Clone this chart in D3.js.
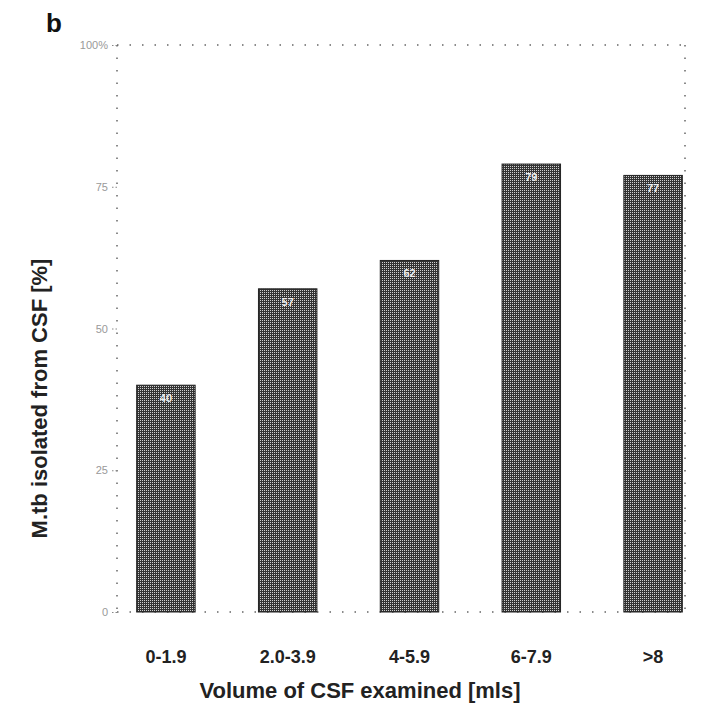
<!DOCTYPE html>
<html>
<head>
<meta charset="utf-8">
<script src="https://cdn.jsdelivr.net/npm/d3@7"></script>
<style>
  body { margin: 0; background: #fff; }
  svg { font-family: "Liberation Sans", Arial, sans-serif; }
</style>
</head>
<body>
<div id="chart"></div>
<script>
var categories = ["0-1.9", "2.0-3.9", "4-5.9", "6-7.9", ">8"];
var values = [40, 57, 62, 79, 77];
var yTicks = [0, 25, 50, 75, 100];
var yTickLabels = ["0", "25", "50", "75", "100%"];

var margin = {top: 45, right: 20, bottom: 93, left: 117},
    width = 706 - margin.left - margin.right,
    height = 705 - margin.top - margin.bottom;

var svg = d3.select("#chart").append("svg")
    .attr("width", 706)
    .attr("height", 705);

// checker pattern, a bit like the halftone of the scan
var defs = svg.append("defs");
var pat = defs.append("pattern")
    .attr("id", "dots")
    .attr("width", 4).attr("height", 4)
    .attr("patternUnits", "userSpaceOnUse");
pat.append("rect").attr("width", 4).attr("height", 4).attr("fill", "#333");
pat.append("rect").attr("x", 1).attr("y", 1).attr("width", 1).attr("height", 1).attr("fill", "#d0d0d0");
pat.append("rect").attr("x", 3).attr("y", 3).attr("width", 1).attr("height", 1).attr("fill", "#d0d0d0");
pat.append("rect").attr("x", 1).attr("y", 3).attr("width", 1).attr("height", 1).attr("fill", "#d0d0d0");
pat.append("rect").attr("x", 3).attr("y", 1).attr("width", 1).attr("height", 1).attr("fill", "#d0d0d0");

var g = svg.append("g")
    .attr("transform", "translate(" + margin.left + "," + margin.top + ")");

var xScale = d3.scaleBand()
    .domain(categories)
    .range([-12, 597])
    .paddingInner(0.52)
    .paddingOuter(0.26);

var yScale = d3.scaleLinear()
    .domain([0, 100])
    .range([height, 0]);

// dotted frame
var frame = g.append("g").attr("class", "frame")
    .attr("stroke", "#666")
    .attr("stroke-width", 1.5)
    .attr("stroke-dasharray", "1.5,11");
frame.append("line").attr("x1", 0).attr("x2", 0).attr("y1", 0).attr("y2", height);
frame.append("line").attr("x1", 0).attr("x2", 568).attr("y1", 0).attr("y2", 0);
frame.append("line").attr("x1", 568).attr("x2", 568).attr("y1", 0).attr("y2", height);
frame.append("line").attr("x1", 0).attr("x2", 568).attr("y1", height).attr("y2", height);

var yAxis = g.append("g")
    .attr("class", "axis y--axis")
    .call(d3.axisLeft(yScale)
      .tickValues(yTicks)
      .tickSize(6)
      .tickFormat(function(d, i) { return yTickLabels[i]; }));
yAxis.select(".domain").remove();
yAxis.selectAll("line").attr("stroke", "#888").attr("stroke-dasharray", "1.5,2");
yAxis.selectAll("text")
    .attr("fill", "#999")
    .style("font-size", "11px")
    .attr("x", -9);

g.selectAll(".bars")
    .data(values)
  .enter().append("rect")
    .attr("class", "bars")
    .attr("x", function(d, i) { return xScale(categories[i]); })
    .attr("width", xScale.bandwidth())
    .attr("y", function(d) { return yScale(d); })
    .attr("height", function(d) { return height - yScale(d); })
    .attr("fill", "url(#dots)")
    .attr("stroke", "#222")
    .attr("stroke-width", 1);

g.selectAll(".barLabel")
    .data(values)
  .enter().append("text")
    .attr("class", "barLabel")
    .attr("x", function(d, i) { return xScale(categories[i]) + xScale.bandwidth() / 2; })
    .attr("y", function(d) { return yScale(d) + 17; })
    .attr("text-anchor", "middle")
    .attr("fill", "#eee")
    .style("font-size", "11px")
    .style("font-weight", "bold")
    .text(function(d) { return d; });

var xAxis = g.append("g")
    .attr("class", "axis x--axis")
    .attr("transform", "translate(0," + height + ")")
    .call(d3.axisBottom(xScale).tickSize(0).tickPadding(38));
xAxis.select(".domain").remove();
xAxis.selectAll("text")
    .attr("fill", "#222")
    .style("font-size", "18px")
    .style("font-weight", "bold");

g.append("text")
    .attr("x", 243)
    .attr("y", height + 86)
    .attr("text-anchor", "middle")
    .attr("fill", "#222")
    .style("font-size", "22px")
    .style("font-weight", "bold")
    .text("Volume of CSF examined [mls]");

g.append("text")
    .attr("transform", "translate(-70," + (height / 2 + 70) + ") rotate(-90)")
    .attr("text-anchor", "middle")
    .attr("fill", "#222")
    .style("font-size", "22px")
    .style("font-weight", "bold")
    .text("M.tb isolated from CSF [%]");

svg.append("text")
    .attr("x", 46)
    .attr("y", 32)
    .attr("fill", "#111")
    .style("font-size", "26px")
    .style("font-weight", "bold")
    .text("b");
</script>
</body>
</html>
